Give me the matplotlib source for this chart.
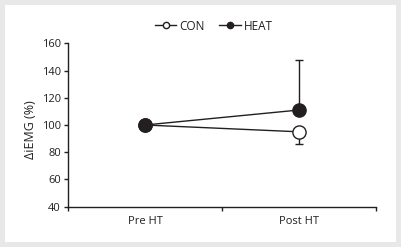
import matplotlib
matplotlib.use("Agg")
import matplotlib.pyplot as plt
from matplotlib.patches import Rectangle
from matplotlib.lines import Line2D

categories = ["Pre HT", "Post HT"]
con_values = [100, 95]
heat_values = [100, 111]
con_err_lower = [0, 9]
heat_err_upper = [0, 36.5]
y_ticks = [40, 60, 80, 100, 120, 140, 160]

plt.rcParams['font.family'] = ['Open Sans', 'DejaVu Sans']
dark = '#231f20'

fig = plt.figure(figsize=(4.02, 2.47), dpi=100)
fig.patch.set_facecolor('#e8e8e8')
bg = Rectangle((5/402, 5/247), 391/402, 237/247, transform=fig.transFigure,
               facecolor='white', edgecolor='none', zorder=-10)
fig.add_artist(bg)

ax = fig.add_axes([68/402, (247-206.7)/247, (376-68)/402, (206.7-43.3)/247])
ax.set_zorder(1)
ax.set_facecolor('none')

xpos = [0.5, 1.5]
ax.errorbar(xpos, con_values, yerr=[con_err_lower, [0, 0]], color=dark, lw=1.0,
            marker='o', ms=9.5, mfc='white', mec=dark, mew=1.0, capsize=3,
            elinewidth=1.0, capthick=1.0, zorder=3)
ax.errorbar(xpos, heat_values, yerr=[[0, 0], heat_err_upper], color=dark, lw=1.0,
            marker='o', ms=9.5, mfc=dark, mec=dark, mew=1.0, capsize=3,
            elinewidth=1.0, capthick=1.0, zorder=4)

ax.set_xlim(0, 2)
ax.set_ylim(40, 160)
ax.set_yticks(y_ticks)
ax.set_xticks([0, 1, 2])
ax.set_xticklabels([])
ax.set_xticks(xpos, minor=True)
ax.set_xticklabels(categories, minor=True)
ax.tick_params(axis='x', which='minor', length=0, pad=7, labelsize=8, colors=dark)
ax.tick_params(axis='x', which='major', length=3, width=1, color=dark, direction='out')
ax.tick_params(axis='y', length=3, width=1, color=dark, labelsize=8, labelcolor=dark, pad=2)
for s in ['top', 'right']:
    ax.spines[s].set_visible(False)
for s in ['left', 'bottom']:
    ax.spines[s].set_color(dark)
    ax.spines[s].set_linewidth(1.0)
ax.set_ylabel('ΔiEMG (%)', fontsize=9, color=dark)
ax.yaxis.set_label_coords(-0.10, 0.47)

hl = [Line2D([], [], color=dark, lw=1, marker='o', ms=4.5, mfc='white', mec=dark),
      Line2D([], [], color=dark, lw=1, marker='o', ms=4.5, mfc=dark, mec=dark)]
fig.legend(hl, ['CON', 'HEAT'], loc='center', bbox_to_anchor=(214/402, 1 - 26/247),
           ncol=2, frameon=False, fontsize=8.5, handlelength=1.8, handletextpad=0.3,
           columnspacing=1.2, labelcolor=dark)

fig.savefig('out.png', dpi=100, facecolor=fig.get_facecolor())
